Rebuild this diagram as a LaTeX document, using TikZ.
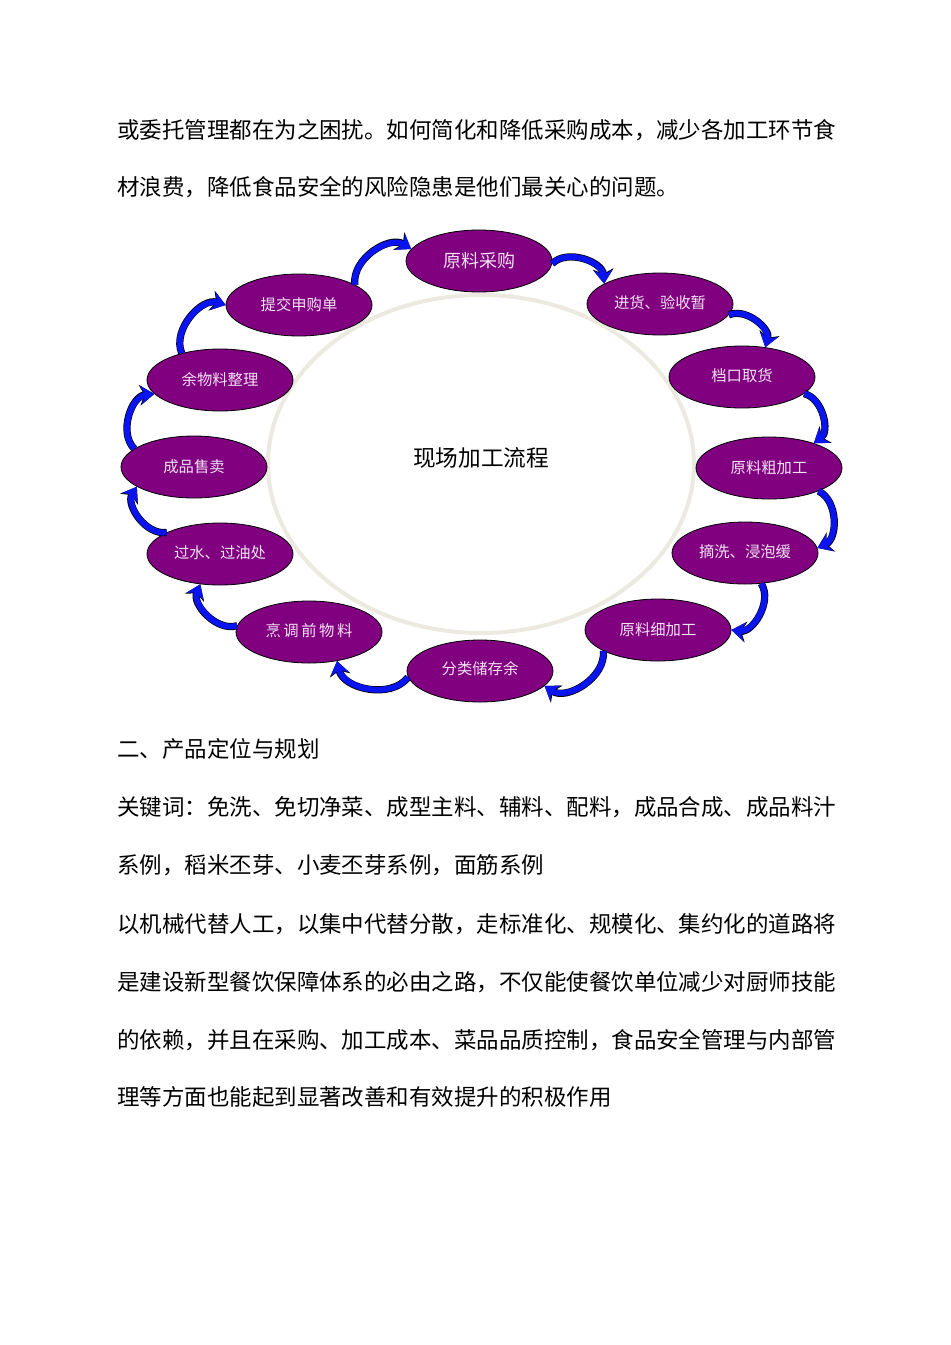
\documentclass[tikz,border=0pt]{standalone}
\usepackage{fontspec}
\newfontfamily\cjk{Noto Sans CJK SC}
\usepackage{tikz}
\usetikzlibrary{shapes.geometric,arrows.meta}
\definecolor{plum}{HTML}{800080}
\definecolor{ringgray}{HTML}{ECEAE0}
\definecolor{pale}{HTML}{F4E2F4}
\definecolor{flowblue}{HTML}{0A14F0}

\begin{document}
\begin{tikzpicture}[x=0.75pt,y=0.75pt,font=\cjk,
  stage/.style={ellipse, draw=black, line width=0.6pt, fill=plum, text=pale,
    minimum width=109.5pt, minimum height=46.5pt, inner sep=0pt,
    font=\cjk\fontsize{11.5pt}{12pt}\selectfont},
  flow/.style={draw=flowblue, line width=4.4pt, -{Stealth[length=10pt,width=14pt]},
    preaction={draw=black, line width=5.4pt, -{Stealth[length=11pt,width=15.5pt]}}},
  body/.style={anchor=west, inner sep=0pt, font=\cjk\fontsize{16.85pt}{18pt}\selectfont}]
\useasboundingbox[fill=white] (0,0) rectangle (950,-1345);
% text above
\node[body] (p1) at (117,-130) {或委托管理都在为之困扰。如何简化和降低采购成本，减少各加工环节食};
\node[body] (p2) at (117,-187) {材浪费，降低食品安全的风险隐患是他们最关心的问题。};
% ring
\draw[ringgray, line width=3pt] (481,-464) ellipse [x radius=213, y radius=169];
\node[font=\cjk\fontsize{17pt}{18pt}\selectfont] (title) at (481,-458) {现场加工流程};
% stages
\node[stage, font=\cjk\fontsize{13.5pt}{14pt}\selectfont] (buy) at (479,-261) {\raisebox{2pt}{原料采购}};
\node[stage] (check) at (660,-304) {\raisebox{3pt}{进货、验收暂}};
\node[stage] (stall) at (742,-377) {\raisebox{3pt}{档口取货}};
\node[stage] (rough) at (769,-468) {\raisebox{1pt}{原料粗加工}};
\node[stage] (wash) at (745,-553) {\raisebox{3pt}{摘洗、浸泡缓}};
\node[stage] (fine) at (658,-630) {\raisebox{2pt}{原料细加工}};
\node[stage] (sort) at (480,-671) {\raisebox{4pt}{分类储存余}};
\node[stage] (prep) at (309,-632) {\raisebox{3pt}{烹\,调\,前\,物\,料}};
\node[stage] (blanch) at (220,-554) {\raisebox{3pt}{过水、过油处}};
\node[stage] (sell) at (194,-467) {\raisebox{1pt}{成品售卖}};
\node[stage] (left) at (220,-380) {\raisebox{1pt}{余物料整理}};
\node[stage] (order) at (299,-305) {\raisebox{1pt}{提交申购单}};
% arrows
\draw[flow] (buy.-2) to[bend left=65] (check.160);
\draw[flow] (check.-9) to[bend left=65] (stall.52);
\draw[flow] (stall.-15) to[bend left=65] (rough.29);
\draw[flow] (rough.-25) to[bend left=65] (wash.4);
\draw[flow] (wash.-62) to[bend left=65] (fine.0);
\draw[flow] (fine.201) to[bend left=65] (sort.-13);
\draw[flow] (sort.185) to[bend left=65] (prep.-46);
\draw[flow] (prep.175) to[bend left=65] (blanch.237);
\draw[flow] (blanch.158) to[bend left=65] (sell.199);
\draw[flow] (sell.163) to[bend left=65] (left.192);
\draw[flow] (left.145) to[bend left=65] (order.180);
\draw[flow] (order.20) to[bend left=65] (buy.170);
% text below
\node[body] (h2) at (117,-749) {二、产品定位与规划};
\node[body] (k1) at (117,-807) {关键词：免洗、免切净菜、成型主料、辅料、配料，成品合成、成品料汁};
\node[body] (k2) at (117,-865) {系例，稻米丕芽、小麦丕芽系例，面筋系例};
\node[body] (q1) at (117,-924) {以机械代替人工，以集中代替分散，走标准化、规模化、集约化的道路将};
\node[body] (q2) at (117,-982) {是建设新型餐饮保障体系的必由之路，不仅能使餐饮单位减少对厨师技能};
\node[body] (q3) at (117,-1040) {的依赖，并且在采购、加工成本、菜品品质控制，食品安全管理与内部管};
\node[body] (q4) at (117,-1097) {理等方面也能起到显著改善和有效提升的积极作用};
\end{tikzpicture}
\end{document}
